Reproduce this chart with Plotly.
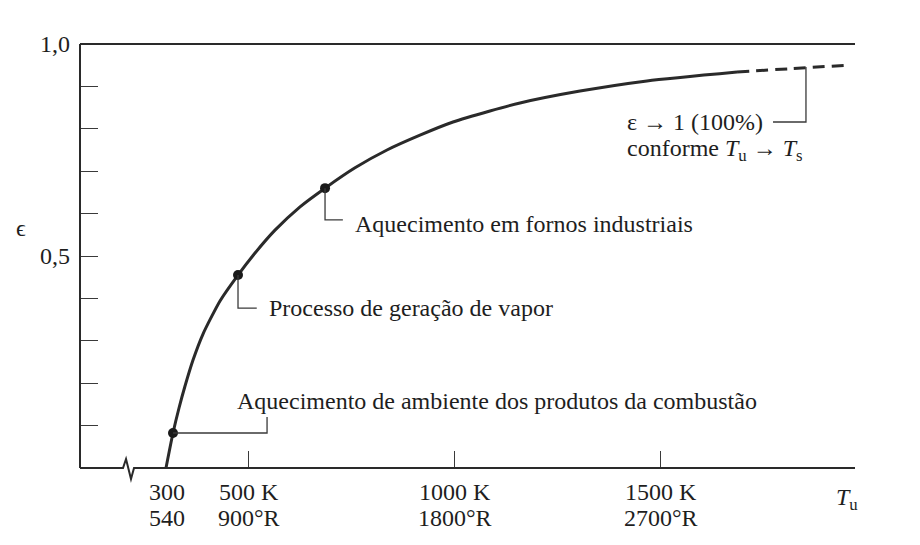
import plotly.graph_objects as go

# ---- data ----
curve_T = [298.7, 315.7, 330.3, 344.9, 364.3, 388.5, 429.8, 473.5, 514.8, 563.3, 624,
           684.7, 757.5, 835.1, 915.2, 995.3, 1085, 1158, 1303.6, 1466, 1684.7]
curve_eps = [0.0, 0.0825, 0.1415, 0.1934, 0.2547, 0.316, 0.394, 0.455, 0.507, 0.561, 0.616,
             0.660, 0.708, 0.750, 0.785, 0.816, 0.842, 0.861, 0.889, 0.913, 0.934]
dash_T = [1684.7, 1818, 1951.7]
dash_eps = [0.934, 0.942, 0.950]

point_T = [315.7, 473.5, 684.7]
point_eps = [0.0825, 0.455, 0.660]
point_labels = [
    "Aquecimento de ambiente dos produtos da combustão",
    "Processo de geração de vapor",
    "Aquecimento em fornos industriais",
]

x_tick_vals = [300, 500, 1000, 1500]
x_tick_row1 = ["300", "500 K", "1000 K", "1500 K"]
x_tick_row2 = ["540", "900°R", "1800°R", "2700°R"]
x_major_ticks = [500, 1000, 1500]

y_tick_vals = [0.1, 0.2, 0.3, 0.4, 0.5, 0.6, 0.7, 0.8, 0.9, 1.0]
y_label_vals = [0.5, 1.0]
y_label_text = ["0,5", "1,0"]

FONT = "Liberation Serif, Times New Roman, serif"
INK = "#1e1e1e"
FS = 24

fig = go.Figure()
fig.add_trace(go.Scatter(x=curve_T, y=curve_eps, mode="lines",
                         line=dict(color="#2a2a2a", width=3, shape="spline", smoothing=0.6),
                         hoverinfo="skip"))
fig.add_trace(go.Scatter(x=dash_T, y=dash_eps, mode="lines",
                         line=dict(color="#2a2a2a", width=3, dash="12px,7px", shape="spline"),
                         hoverinfo="skip"))
fig.add_trace(go.Scatter(x=point_T, y=point_eps, mode="markers",
                         marker=dict(color="#1a1a1a", size=10),
                         cliponaxis=False, hoverinfo="skip"))

# leader lines (data coordinates)
leader_style = dict(color="#3a3a3a", width=1.3)
fig.add_shape(type="path", xref="x", yref="y",
              path=f"M {point_T[0]},{point_eps[0]} L 544,{point_eps[0]} L 544,0.120",
              line=leader_style)
fig.add_shape(type="path", xref="x", yref="y",
              path=f"M {point_T[1]},{point_eps[1]} L {point_T[1]},0.377 L 519,0.377",
              line=leader_style)
fig.add_shape(type="path", xref="x", yref="y",
              path=f"M {point_T[2]},{point_eps[2]} L {point_T[2]},0.585 L 728,0.585",
              line=leader_style)
fig.add_shape(type="path", xref="x", yref="y",
              path="M 1852,0.946 L 1852,0.816 L 1772,0.816",
              line=leader_style)

# axis frame (paper coordinates) with break on the T axis
axis_style = dict(color="#2a2a2a", width=2)
fig.add_shape(type="line", xref="paper", yref="paper", x0=0, y0=0, x1=0, y1=1, line=axis_style)
fig.add_shape(type="line", xref="paper", yref="paper", x0=0, y0=1, x1=1, y1=1, line=axis_style)
fig.add_shape(type="path", xref="paper", yref="paper",
              path="M 0,0 L 0.0555,0 L 0.0594,0.0212 L 0.0658,-0.0259 L 0.0697,0 L 1,0",
              line=axis_style)

txt_font = dict(family=FONT, size=FS, color=INK)

# annotations
for i, (tx, ty) in enumerate([(466, 0.158), (544, 0.377), (752.6, 0.575)]):
    fig.add_annotation(x=tx, y=ty, xref="x", yref="y", text=point_labels[i],
                       xanchor="left", yanchor="middle", showarrow=False, font=txt_font)
fig.add_annotation(x=1413, y=0.816, xref="x", yref="y", text="ε → 1 (100%)",
                   xanchor="left", yanchor="middle", showarrow=False, font=txt_font)
fig.add_annotation(x=1413, y=0.75, xref="x", yref="y",
                   text="conforme <i>T</i><sub>u</sub> → <i>T</i><sub>s</sub>",
                   xanchor="left", yanchor="middle", showarrow=False, font=txt_font)

for v, r1, r2 in zip(x_tick_vals, x_tick_row1, x_tick_row2):
    fig.add_annotation(x=v, y=-0.0566, xref="x", yref="paper", text=r1, showarrow=False,
                       xanchor="center", yanchor="middle", font=txt_font)
    fig.add_annotation(x=v, y=-0.119, xref="x", yref="paper", text=r2, showarrow=False,
                       xanchor="center", yanchor="middle", font=txt_font)

for v, t in zip(y_label_vals, y_label_text):
    fig.add_annotation(x=-0.0103, y=v, xref="paper", yref="y", text=t, showarrow=False,
                       xanchor="right", yanchor="middle", font=txt_font)

fig.add_annotation(x=1951, y=-0.073, xref="x", yref="paper", text="<i>T</i><sub>u</sub>",
                   showarrow=False, xanchor="center", yanchor="middle", font=txt_font)
fig.add_annotation(x=-0.076, y=0.566, xref="paper", yref="y", text="ϵ",
                   showarrow=False, xanchor="center", yanchor="middle", font=txt_font)

fig.update_layout(
    width=920, height=545,
    margin=dict(l=80, r=65, t=44, b=77),
    paper_bgcolor="white", plot_bgcolor="white",
    showlegend=False,
    font=dict(family=FONT, size=FS, color=INK),
    xaxis=dict(range=[90, 1971], showgrid=False, zeroline=False, showline=False,
               tickmode="array", tickvals=x_major_ticks, showticklabels=False,
               ticks="inside", ticklen=17, tickwidth=1.2, tickcolor="#3a3a3a"),
    yaxis=dict(range=[0, 1], showgrid=False, zeroline=False, showline=False,
               tickmode="array", tickvals=y_tick_vals, showticklabels=False,
               ticks="inside", ticklen=18, tickwidth=1.3, tickcolor="#3a3a3a"),
)

fig.write_html("out.html")
